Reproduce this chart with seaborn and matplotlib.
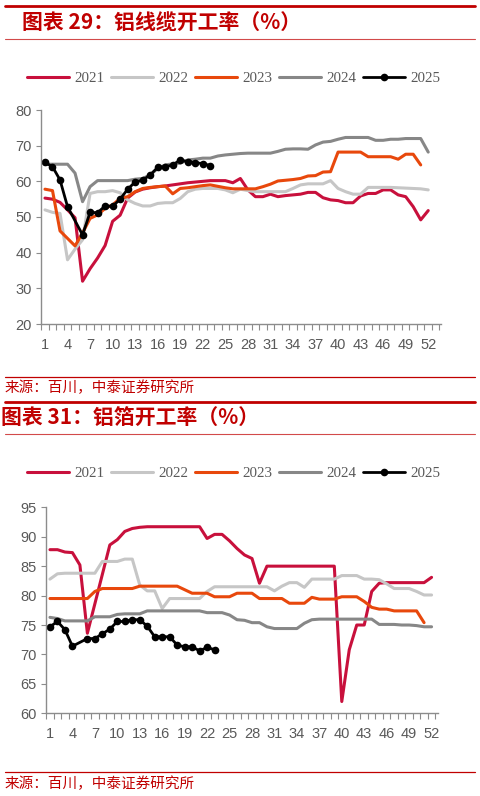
import numpy as np
import pandas as pd
import matplotlib
matplotlib.use("Agg")
import matplotlib.pyplot as plt
from matplotlib.lines import Line2D
import seaborn as sns

# === Data ===
weeks = list(range(1, 53))
years = ["2021", "2022", "2023", "2024", "2025"]
year_colors = {"2021": "#C8103C", "2022": "#C6C6C6", "2023": "#E8480C",
               "2024": "#878787", "2025": "#000000"}
xtick_labels = list(range(1, 53, 3))

# chart 29: aluminium wire & cable operating rate (%)
wire_2021 = [55.3, 55.0, 54.1, 52.0, 49.8, 32.0, 35.5, 38.5, 42.0, 48.8,
             50.5, 55.3, 57.0, 57.8, 58.2, 58.5, 58.7, 59.0, 59.3, 59.6,
             59.8, 60.0, 60.2, 60.2, 60.2, 59.6, 60.8, 57.6, 55.7, 55.7,
             56.4, 55.7, 56.0, 56.2, 56.4, 56.9, 56.9, 55.4, 54.8, 54.6,
             54.0, 54.0, 55.9, 56.6, 56.6, 57.6, 57.6, 56.2, 55.7, 52.9,
             49.2, 51.8]
wire_2022 = [52.0, 51.3, 51.0, 38.0, 41.0, 43.6, 56.6, 57.1, 57.1, 57.4,
             56.8, 54.8, 53.8, 53.1, 53.1, 53.8, 54.0, 54.0, 55.2, 57.1,
             57.8, 58.0, 58.0, 58.0, 57.6, 56.8, 57.8, 57.4, 57.1, 57.1,
             57.1, 57.1, 57.1, 58.0, 59.0, 59.3, 59.3, 59.3, 60.2, 58.0,
             57.1, 56.4, 56.4, 58.3, 58.3, 58.3, 58.3, 58.2, 58.1, 58.0,
             57.9, 57.6]
wire_2023 = [57.8, 57.4, 46.1, 44.0, 41.9, 45.5, 49.6, 50.6, 52.4, 53.4,
             55.2, 55.7, 57.1, 58.0, 58.3, 58.5, 58.7, 56.5, 58.0, 58.2,
             58.5, 58.8, 59.0, 58.6, 58.2, 57.9, 57.9, 57.9, 57.9, 58.5,
             59.2, 60.1, 60.3, 60.5, 60.8, 61.5, 61.6, 62.6, 62.7, 68.2,
             68.2, 68.2, 68.2, 66.9, 66.9, 66.9, 66.9, 66.2, 67.6, 67.6,
             64.6]
wire_2024 = [64.8, 64.8, 64.8, 64.8, 62.3, 54.3, 58.5, 60.2, 60.2, 60.2,
             60.2, 60.2, 60.6, 60.8, 61.8, 63.6, 64.6, 64.9, 65.1, 66.0,
             66.2, 66.5, 66.5, 67.1, 67.4, 67.6, 67.8, 67.9, 67.9, 67.9,
             67.9, 68.4, 69.0, 69.1, 69.1, 69.0, 70.2, 71.0, 71.2, 71.8,
             72.3, 72.3, 72.3, 72.3, 71.5, 71.5, 71.8, 71.8, 72.0, 72.0,
             72.0, 68.2]
# week 5 of 2025 has no reading (spring festival)
wire_2025 = [65.3, 64.1, 60.4, 52.9, np.nan, 45.0, 51.3, 51.2, 53.1, 53.0,
             55.0, 57.8, 59.8, 60.3, 61.8, 63.9, 64.1, 64.6, 66.0, 65.5,
             65.2, 65.0, 64.4]

# chart 31: aluminium foil operating rate (%)
foil_2021 = [87.8, 87.8, 87.4, 87.3, 85.2, 73.6, 78.6, 83.6, 88.6, 89.5,
             90.9, 91.4, 91.6, 91.7, 91.7, 91.7, 91.7, 91.7, 91.7, 91.7,
             91.7, 89.7, 90.4, 90.4, 89.3, 88.0, 86.9, 86.3, 82.1, 85.0,
             85.0, 85.0, 85.0, 85.0, 85.0, 85.0, 85.0, 85.0, 85.0, 62.0,
             70.8, 75.0, 75.0, 80.7, 82.1, 82.2, 82.2, 82.2, 82.2, 82.2,
             82.2, 83.1]
foil_2022 = [82.8, 83.7, 83.8, 83.8, 83.8, 83.8, 83.8, 85.8, 85.8, 85.8,
             86.2, 86.2, 81.8, 80.8, 80.8, 77.8, 79.5, 79.5, 79.5, 79.5,
             79.5, 80.7, 81.5, 81.5, 81.5, 81.5, 81.5, 81.5, 81.5, 81.5,
             80.8, 81.6, 82.2, 82.2, 81.4, 82.8, 82.8, 82.8, 82.8, 83.4,
             83.4, 83.4, 82.8, 82.8, 82.7, 82.0, 81.2, 81.2, 81.2, 80.7,
             80.1, 80.1]
foil_2023 = [79.5, 79.5, 79.5, 79.5, 79.5, 79.5, 80.7, 81.2, 81.2, 81.2,
             81.2, 81.2, 81.6, 81.6, 81.6, 81.6, 81.6, 81.6, 81.0, 80.4,
             80.4, 80.4, 79.8, 79.8, 79.8, 80.4, 80.4, 80.4, 79.5, 79.5,
             79.5, 79.5, 78.7, 78.7, 78.7, 79.7, 79.4, 79.4, 79.4, 79.8,
             79.8, 79.8, 79.0, 78.0, 77.7, 77.7, 77.4, 77.4, 77.4, 77.4,
             75.4]
foil_2024 = [76.3, 76.1, 75.7, 75.7, 75.7, 75.7, 76.4, 76.4, 76.4, 76.8,
             76.9, 76.9, 76.9, 77.4, 77.4, 77.4, 77.4, 77.4, 77.4, 77.4,
             77.4, 77.1, 77.1, 77.1, 76.7, 75.9, 75.8, 75.4, 75.4, 74.7,
             74.4, 74.4, 74.4, 74.4, 75.3, 75.9, 76.0, 76.0, 76.0, 76.0,
             76.0, 76.0, 76.0, 76.0, 75.1, 75.1, 75.1, 75.0, 75.0, 74.9,
             74.7, 74.7]
foil_2025 = [74.7, 75.6, 74.2, 71.4, np.nan, 72.7, 72.7, 73.5, 74.3, 75.6,
             75.6, 75.9, 75.9, 74.8, 73.0, 73.0, 73.0, 71.6, 71.3, 71.3,
             70.6, 71.2, 70.8]

# === Figure setup ===
sns.set_theme(style="white")
plt.rcParams["font.family"] = ["Noto Sans CJK SC", "DejaVu Sans"]

W, H = 481, 796
fig = plt.figure(figsize=(W / 100, H / 100), dpi=100)


def fx(px):
    return px / W


def fy(py):
    return 1 - py / H


def hline(y_px, lw, color):
    fig.add_artist(Line2D([fx(5), fx(475)], [fy(y_px), fy(y_px)], lw=lw, color=color,
                          transform=fig.transFigure))


def long_frame(series):
    rows = []
    for yr, vals in zip(years, series):
        for w, v in zip(weeks, vals):
            rows.append({"week": w, "rate": v, "year": yr})
    return pd.DataFrame(rows)


def draw_panel(ax, series, ylim, yticks, xlim):
    df = long_frame(series)
    for yr in years:
        sub = df[df["year"] == yr]
        if yr == "2025":
            sns.lineplot(data=sub, x="week", y="rate", ax=ax, color=year_colors[yr],
                         linewidth=2.0, marker="o", markersize=5.5, markeredgewidth=0,
                         label=yr, errorbar=None)
        else:
            sns.lineplot(data=sub, x="week", y="rate", ax=ax, color=year_colors[yr],
                         linewidth=2.2, label=yr, errorbar=None)
    ax.set_xlim(xlim)
    ax.set_ylim(ylim)
    ax.set_yticks(yticks)
    ax.set_xticks(xtick_labels)
    minor = [m for m in np.arange(0.5, 54, 1.0) if xlim[0] <= m <= xlim[1]]
    ax.set_xticks(minor, minor=True)
    ax.set_xlabel("")
    ax.set_ylabel("")
    for s in ["top", "right"]:
        ax.spines[s].set_visible(False)
    for s in ["left", "bottom"]:
        ax.spines[s].set_color("#8C8C8C")
        ax.spines[s].set_linewidth(1.0)
    ax.tick_params(axis="x", which="major", length=0, pad=10, labelsize=10.5,
                   labelcolor="#595959")
    ax.tick_params(axis="x", which="minor", bottom=True, length=4.3, width=0.8,
                   color="#8C8C8C", direction="out")
    ax.tick_params(axis="y", left=True, length=3.6, width=0.8, color="#8C8C8C",
                   pad=3, labelsize=10.5, labelcolor="#595959")
    for lab in ax.get_xticklabels() + ax.get_yticklabels():
        lab.set_fontfamily("Liberation Sans")
    if ax.get_legend() is not None:
        ax.get_legend().remove()


def add_legend(ax, y_px):
    handles, labels = ax.get_legend_handles_labels()
    fig.legend(handles, labels, loc="center", bbox_to_anchor=(fx(234), fy(y_px)),
               ncol=5, frameon=False, handlelength=2.8, handletextpad=0.35,
               columnspacing=0.45, labelcolor="#595959",
               prop={"family": "Liberation Serif", "size": 10.8})


red = "#C00000"

# === Chart 29 ===
hline(6, 2.0, red)
fig.text(fx(22), fy(23), "图表 29：铝线缆开工率（%）", color=red, fontsize=15,
         fontweight="bold", ha="left", va="center")
hline(39.3, 0.8, "#D24A4A")

ax1 = fig.add_axes([fx(41), fy(324), (441 - 41) / W, (324 - 110) / H])
draw_panel(ax1, [wire_2021, wire_2022, wire_2023, wire_2024, wire_2025],
           (20, 80), range(20, 81, 10), (0.47, 53.7))
add_legend(ax1, 78)

hline(377.3, 0.9, red)
fig.text(fx(5), fy(388.3), "来源：百川，中泰证券研究所", color=red, fontsize=10.5,
         ha="left", va="center")

# === Chart 31 ===
hline(401.5, 2.0, red)
fig.text(fx(1), fy(418.3), "图表 31：铝箔开工率（%）", color=red, fontsize=15,
         fontweight="bold", ha="left", va="center")
hline(434.3, 0.8, "#D24A4A")

ax2 = fig.add_axes([fx(46), fy(713.3), (438.3 - 46) / W, (713.3 - 507.3) / H])
draw_panel(ax2, [foil_2021, foil_2022, foil_2023, foil_2024, foil_2025],
           (60, 95), range(60, 96, 5), (0.47, 52.9))
add_legend(ax2, 473.3)

hline(772, 0.9, red)
fig.text(fx(5), fy(784), "来源：百川，中泰证券研究所", color=red, fontsize=10.5,
         ha="left", va="center")

fig.savefig("out.png", dpi=100)
